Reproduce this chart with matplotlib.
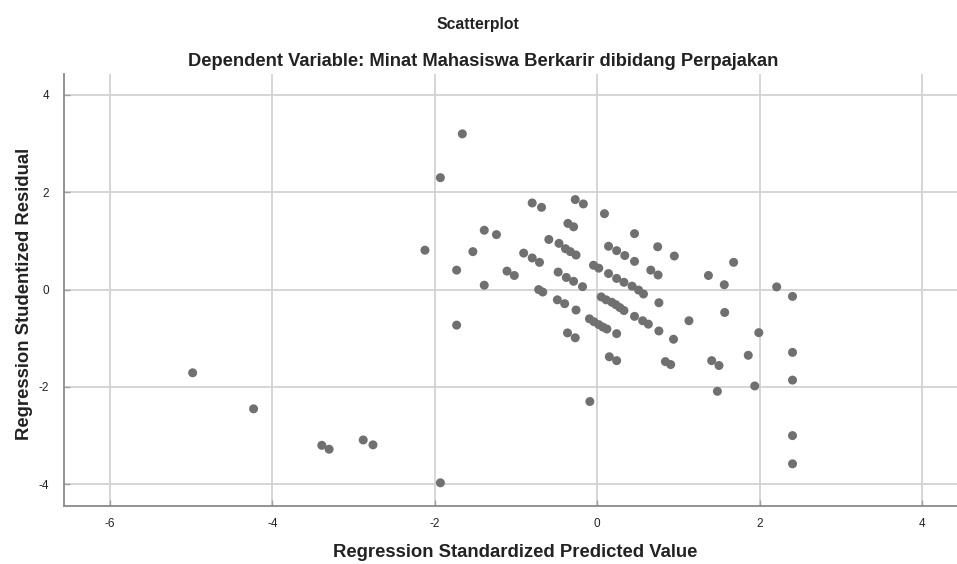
import numpy as np
from matplotlib import pyplot as pypl

pypl.rcParams['font.family'] = ['Liberation Sans', 'DejaVu Sans']
pypl.rcParams['axes.unicode_minus'] = False

# Regression standardized predicted value (x) and studentized residual (y)
predicted = [
    -4.98, -4.23, -3.39, -3.30, -2.88, -2.76, -1.93,
    -2.12, -1.66, -1.93, -1.73, -1.53, -1.73,
    -1.39, -1.24, -1.39,
    -0.80, -0.685, -0.27, -0.17, 0.09,
    -0.36, -0.29, 0.46,
    -0.595, -0.47, -0.39, -0.33, -0.26,
    -0.905, -0.80, -0.71,
    -1.11, -1.02,
    0.14, 0.24, 0.34, 0.46,
    0.745, 0.95,
    -0.045, 0.02,
    -0.48, -0.38, -0.29, -0.18,
    0.14, 0.24, 0.33, 0.43, 0.51, 0.57,
    0.66, 0.75,
    1.68, 1.37, 1.565, 2.21, 2.405,
    -0.72, -0.67,
    -0.49, -0.40, -0.26,
    0.05, 0.11, 0.18, 0.23, 0.28, 0.33,
    0.46, 0.56, 0.63,
    0.76, 1.57, 1.13,
    -0.095, -0.04, 0.02, 0.07, 0.12,
    0.24, -0.365, -0.27,
    0.76, 0.94, 1.99,
    0.15, 0.24,
    0.84, 0.905, 1.41, 1.50,
    1.86, 1.94, 1.48,
    2.405, 2.405, 2.405, 2.405,
    -0.09,
]
residual = [
    -1.71, -2.45, -3.20, -3.28, -3.09, -3.19, -3.97,
    0.81, 3.20, 2.30, 0.40, 0.78, -0.73,
    1.22, 1.13, 0.09,
    1.78, 1.69, 1.85, 1.76, 1.56,
    1.36, 1.29, 1.15,
    1.03, 0.95, 0.84, 0.78, 0.71,
    0.75, 0.65, 0.56,
    0.38, 0.29,
    0.89, 0.80, 0.70, 0.58,
    0.88, 0.69,
    0.50, 0.44,
    0.36, 0.25, 0.17, 0.06,
    0.33, 0.23, 0.15, 0.07, -0.01, -0.09,
    0.40, 0.30,
    0.56, 0.29, 0.10, 0.055, -0.14,
    0.0, -0.05,
    -0.21, -0.29, -0.42,
    -0.15, -0.21, -0.26, -0.31, -0.37, -0.43,
    -0.55, -0.64, -0.71,
    -0.27, -0.47, -0.64,
    -0.60, -0.66, -0.72, -0.77, -0.81,
    -0.905, -0.89, -0.99,
    -0.85, -1.02, -0.885,
    -1.38, -1.46,
    -1.48, -1.54, -1.46, -1.56,
    -1.35, -1.98, -2.09,
    -1.29, -1.86, -3.00, -3.58,
    -2.30,
]
xTicks = [-6, -4, -2, 0, 2, 4]
yTicks = [-4, -2, 0, 2, 4]

fig = pypl.figure(figsize=(9.57, 5.64), dpi=100)
axes = fig.add_axes([0.0672, 0.1034, 0.9328, 0.7654])

axes.scatter(predicted, residual, s=42, color='#707070', edgecolors='none', zorder=3)

axes.set_xlim(-6.56, 4.43)
axes.set_ylim(-4.44, 4.43)
axes.set_xticks(xTicks)
axes.set_yticks(yTicks)
axes.grid(True, color='#d2d2d2', linewidth=1.3, zorder=0)
axes.set_axisbelow(True)
axes.tick_params(direction='in', length=4, width=1, color='#a0a0a0',
                 labelsize=8.5, labelcolor='#222222', pad=11)
axes.tick_params(axis='x', pad=9)

for side in ['top', 'right']:
    axes.spines[side].set_visible(False)
for side in ['left', 'bottom']:
    axes.spines[side].set_color('#8a8a8a')
    axes.spines[side].set_linewidth(1.3)

axes.set_xlabel('Regression Standardized Predicted Value', fontsize=13.3,
                fontweight='bold', color='#222222', va='center')
axes.xaxis.set_label_coords(0.505, -0.1096)
axes.set_ylabel('Regression Studentized Residual', fontsize=13.3,
                fontweight='bold', color='#222222', va='center')
axes.yaxis.set_label_coords(-0.0446, 0.490)

fig.text(0.499, 1 - 25 / 564, 'Scatterplot', ha='center', va='center',
         fontsize=11.3, fontweight='bold', color='#222222')
fig.text(0.505, 1 - 61 / 564, 'Dependent Variable: Minat Mahasiswa Berkarir dibidang Perpajakan',
         ha='center', va='center', fontsize=13.2, fontweight='bold', color='#222222')

pypl.savefig('out.png', dpi=100)
